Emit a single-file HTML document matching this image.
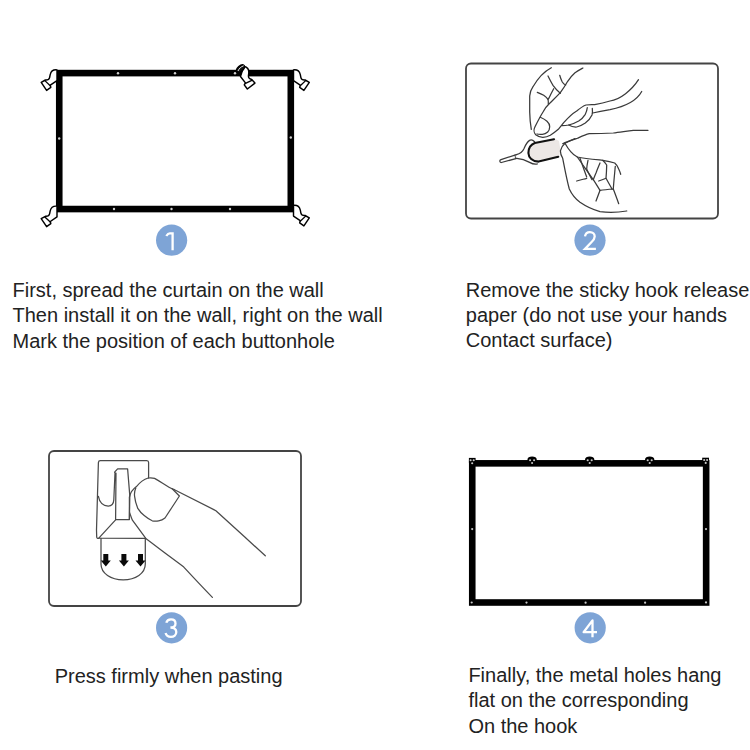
<!DOCTYPE html>
<html><head><meta charset="utf-8"><style>
html,body{margin:0;padding:0;background:#fff;width:750px;height:750px;overflow:hidden}
svg{display:block}
.t{font-family:"Liberation Sans",sans-serif;font-size:20px;fill:#222}
.n{font-family:"Liberation Sans",sans-serif;font-size:25px;fill:#fff}
.ln{fill:none;stroke:#444;stroke-width:1.3;stroke-linecap:round;stroke-linejoin:round}
</style></head><body>
<svg width="750" height="750" viewBox="0 0 750 750">
<defs><g id="hook"><path d="M57,69.9 C53.2,69.5 51,71.2 50.2,74.6 L49.6,77.6 C49.2,79.4 47.8,80.2 45.4,80 L41.2,82.4 L46.6,90.4 L50.8,87.4 L50.3,85.2 L57,80.6 Z" fill="#fff" stroke="#000" stroke-width="1.45" stroke-linejoin="round"/><path d="M44.6,80.4 L50.5,86" fill="none" stroke="#000" stroke-width="1.3"/></g></defs>
<!-- Panel 1 frame -->
<g id="p1">
<rect x="59.25" y="73.1" width="231.55" height="135.95" fill="none" stroke="#000" stroke-width="6.6"/>
<g fill="#d0d0d0"><circle cx="118" cy="73.3" r="1.2"/><circle cx="175" cy="73.3" r="1.2"/><circle cx="235" cy="73.3" r="1.2"/>
<circle cx="114" cy="209" r="1.2"/><circle cx="171.5" cy="209" r="1.2"/><circle cx="230" cy="209" r="1.2"/>
<circle cx="59.2" cy="138.5" r="1.2"/><circle cx="290.8" cy="137.5" r="1.2"/></g>
<use href="#hook"/>
<use href="#hook" transform="translate(0,136.3)"/>
<use href="#hook" transform="translate(350.5,0) scale(-1,1)"/>
<use href="#hook" transform="translate(350.5,135.5) scale(-1,1)"/>
<use href="#hook" transform="translate(244.7,66.7) rotate(18) translate(-294.5,-70) translate(350.5,0) scale(-1,1)"/>
<ellipse cx="240.6" cy="68.6" rx="4.6" ry="2.7" transform="rotate(-42 240.6 68.6)" fill="#111" stroke="#000" stroke-width="1.4"/><path d="M238,71 C239,68.6 241,66.6 243.6,65.8" fill="none" stroke="#fff" stroke-width="0.9"/>
</g>
<!-- Panel 2 box -->
<rect x="466" y="63.5" width="252" height="155" rx="5" fill="none" stroke="#444" stroke-width="1.8"/>
<g id="p2d" fill="none" stroke="#3a3a3a" stroke-width="1.25" stroke-linecap="round" stroke-linejoin="round">
<!-- paper fill -->
<path d="M533,142.5 L554.5,138.6 L559,141 L560.6,151 L558.8,157 L540,162 L531,158.5 L528.6,151 Z" fill="#ece7e5" stroke="none"/>
<!-- pin + hook head -->
<path d="M516.4,154.6 L501,159.6 C499.3,160.2 499.4,162.6 501.4,162.5 L516.8,158.4" />
<path d="M515,155.1 L515.6,158.7" stroke-width="0.9"/>
<path d="M516.4,154.6 C519.6,153.8 522.2,152.6 523.8,149 C525.2,145.6 527,142 529.6,140.4 C531.4,139.4 533.2,140.4 534.6,141.8" fill="#fff"/>
<path d="M516.8,158.4 C521,158.8 525.6,160.2 529.6,162.4 C532,163.8 534.6,164.6 537.4,164"/>
<!-- black U -->
<path d="M554,139.2 L534.8,143 C530.6,144.6 528.4,148.6 528.4,153 C528.6,157.6 532.2,161.2 538.6,161.6 L558.3,156.8" stroke="#111" stroke-width="2.1"/>
<!-- upper hand -->
<path d="M551.3,67.7 C545,71 538,78 533,86.7 C531,89.6 529.8,92 529.7,96 L529.7,112 C529.8,118 530.4,124 531.3,129.3"/>
<path d="M582.9,68 C580,69.6 577.4,71 575,72.7 C571.8,75.5 569.6,78.4 567.7,81.3 C565.2,85.6 562.8,89.4 560.3,92.7 C556.8,96.6 553,100 549.7,103.3 C546.4,106.4 544.2,109.4 543,112 C541.4,114.6 539.6,117.6 535,126.7 C533.6,129.4 533.8,133 535.7,134.7 C538.2,136.6 540.6,137.4 543,137.3 C546,137.2 548.2,136.4 550.3,135.3 C553.4,133.4 555.6,131.6 558.3,129.3 C560,127.4 561.6,125.4 563.7,122.7 C567.8,118 572,113.8 576.7,111 C579.6,108.6 582.6,106.2 586,105 C589,104.6 591.8,104.8 594.7,104.7 C600,103.6 605,102.4 610,101 C620,99.6 632,90 638.5,79.7"/>
<path d="M548,76 C549.6,79.2 551.2,82.4 553,85.3 C555.4,88.6 557.8,91.2 560.3,93.3"/>
<path d="M559.7,75.3 C560.6,77.8 561.2,80 562.3,82 C563.2,83.4 564.4,84.4 565.7,85"/>
<path d="M537.3,92.3 C539.6,93.2 541.8,94.2 543.7,95.3 C545.6,96.6 547,98 548,99.3 C548.4,100.8 548.4,102.4 548.3,104"/>
<path d="M553.7,88.7 C552,91.8 550.4,94.8 549,98 L548,99.3"/>
<path d="M540.3,117.3 C542.8,118.4 545,119.6 547,121.3 C548.8,123 549.8,124.8 549.7,126.7 C549.6,129 549,130.8 547.7,132 C546,133.6 544.2,134.2 542.3,134.3 C540.4,134.4 538.6,134.4 537,134"/>
<path d="M587.3,107.7 C587,110 586.4,112.2 585.3,114.3 C583.6,117 581.4,119.2 578.7,121 C575.6,122.8 572.2,124.2 568.7,125 C566.4,125.4 564.2,125.6 562,125.7"/>
<path d="M592.3,108.3 C592.6,110.6 592.6,112.8 592,115 C590.6,118.2 588.2,120.8 585.3,123 C582.6,124.8 579.8,126.4 576.7,127 C573.8,127.2 571,126.4 568.7,125"/>
<path d="M592.7,113 C598.4,111.8 603.8,110.8 610,109.7 C622,107.2 636,102 641.7,91.5"/>
<!-- lower hand -->
<path d="M648,130.3 C643,130.4 638,130.2 633.3,130.3 C626,131.2 619,132.4 613.3,133 C604,133.4 596,133.6 589.3,133.7 C585,134.8 581.2,136.6 577.3,138.3 C572.6,139.8 567.4,141.2 562.7,143.7"/>
<path d="M575,138.7 C571.4,140.2 567.8,141.8 565,143.3 C562.8,145.2 561,148 560.4,150.9 C560.4,153.4 561.2,155.8 562.7,158.3 C564.6,168 566.6,179 569.3,189 C572,194.8 575.6,199 580,202.3 C586,206.4 592.6,209.6 600,211.7 C609,213 618,212.6 626.7,211"/>
<path d="M565,143.3 C566.6,146.2 568.4,149.2 570.7,151.7 C572.6,154 574.8,155.8 577.3,157 C585,158.6 594,159.4 602.7,160.3 C607,161 611,161.8 614.7,163 C616.6,164.6 618,166.8 618.7,169 C619.6,170.8 620.2,172.6 620.7,174.3"/>
<path d="M577.3,157 C582.4,164.4 588,172 593.3,179.7 C595.6,183.2 597.8,186.8 600,190.3 C598.8,193.8 597.4,197.4 596,201"/>
<path d="M600,190.3 C604.4,189.8 608.8,189.4 613.3,189 C615.2,194 617,198.8 618.7,203.7"/>
<path d="M613.3,189 C613.8,181.4 614.6,173.8 615.3,166.3"/>
<path d="M588,160.3 C587.4,163.2 586.8,166 586.7,169 C588.2,172.6 590,176 592,179.7"/>
<path d="M600,163 C598.6,166.4 597.2,169.6 596,173 C595,175.2 594.2,177.4 593.3,179.7"/>
<path d="M602.7,160.3 C604.2,161.8 605.6,163.4 606.7,165 C606.6,169.4 606.4,173.8 606,178.3 C603.6,179.4 601.2,180.2 598.7,181"/>
<path d="M606,178.3 C608,181.8 610,185.4 612,189"/>
<path d="M576.7,181 C580,180 583.4,179.2 586.7,178.3"/>
<path d="M580,158.3 C582.2,164.6 584.4,170.8 586.7,177"/>
</g>
<!-- Panel 3 box -->
<rect x="49" y="451" width="252" height="155" rx="5" fill="none" stroke="#444" stroke-width="1.8"/>
<g id="p3d" fill="none" stroke="#4a4a4a" stroke-width="1.25" stroke-linecap="round" stroke-linejoin="round">
<!-- pad -->
<path d="M148.6,478 L148.6,462.6 C148.6,461.4 147.9,460.7 146.8,460.7 L100.4,460.7 C99.2,460.7 98.5,461.4 98.4,462.6 L96.5,530 L96.7,537 C96.8,538 97.6,538.6 98.8,538.4"/>
<!-- slot -->
<path d="M98.4,496.4 C99.4,502.4 103.4,506 108.2,506 C111.8,506 113.6,503.4 113.8,500 L115,473 L114.6,472.2 L117.6,468.8 L127.6,468.8 L129.8,495.6 L129.4,519.6 L115.6,519.6 L116,473"/>
<!-- trapezoid & U -->
<path d="M115.6,519.8 L98.8,538.2 L145.8,538.4"/>
<path d="M101,538.4 L101,564 C101,573.4 111,579.8 123.2,579.8 C135.6,579.8 145.3,573.4 145.3,564 L145.3,538.6"/>
<!-- thumb -->
<path d="M129.6,512.6 C130.6,515.4 131.4,518 132.4,520.2 L145.8,538.4 C152,543 158,547.6 165,553 C171.4,557.8 177.6,562.4 183.8,567.1 C193,577 202.4,587 212.4,597.4"/>
<path d="M129.4,519 L129.4,497.2 C130.4,492.4 132.8,489.2 136.2,486.8 C139.8,482.4 143.6,479.4 148.2,478 C150.4,477.8 152.6,477.8 154.6,478.4 C159.6,481.2 164.2,484.4 169,487.2 C171.4,488.6 173.2,489.2 175,490 C188,496.6 202,503.6 215.9,510.7 C232,525.4 249,540.8 265.3,555.8"/>
<path d="M135.8,488 C134.6,490.8 134.2,493.6 134.6,496.4 C135,500.4 136.2,504.6 137.8,508.4 C139.6,511.4 141.8,513.6 144.2,515.6 C146.8,517.8 149.4,519.6 152.2,520.8 C154.4,521.2 156.4,521.2 158.6,520.8 C161,520.4 163.2,519.4 165,518 C169.8,510.6 174.6,503.4 179.4,496 C177,493.6 174.6,491.2 172.2,488.8"/>
</g>
<g fill="#0a0a0a">
<path d="M103.3,554 L108.3,554 L108.3,560.4 L110.8,560.4 L105.8,566.6 L100.8,560.4 L103.3,560.4 Z"/>
<path d="M121.4,554 L126.4,554 L126.4,560.4 L128.9,560.4 L123.9,566.6 L118.9,560.4 L121.4,560.4 Z"/>
<path d="M138,554 L143,554 L143,560.4 L145.5,560.4 L140.5,566.6 L135.5,560.4 L138,560.4 Z"/>
</g>
<!-- Panel 4 frame -->
<g id="p4">
<rect x="472.25" y="463.35" width="233.9" height="139.15" fill="none" stroke="#000" stroke-width="6.6"/>
<defs><g id="bump"><path d="M-4.7,461 L-4.7,460 C-4.7,457.6 -2.6,456.6 0,456.6 C2.6,456.6 4.7,457.6 4.7,460 L4.7,461 Z" fill="#000"/>
<g fill="#c8c8c8"><circle cx="-2" cy="460.2" r="1.05"/><circle cx="2" cy="460.2" r="1.05"/><circle cx="0" cy="463" r="1.05"/></g></g></defs>
<use href="#bump" x="532.1"/><use href="#bump" x="589.7"/><use href="#bump" x="649.7"/>
<rect x="468.9" y="457.9" width="6.7" height="5" fill="#000"/>
<rect x="702.2" y="457.7" width="6.8" height="5" fill="#000"/>
<g fill="#c8c8c8">
<circle cx="470.6" cy="460.3" r="1.05"/><circle cx="473.7" cy="460.3" r="1.05"/><circle cx="472.2" cy="463.2" r="1.05"/>
<circle cx="704.2" cy="460" r="1.05"/><circle cx="707.1" cy="460" r="1.05"/><circle cx="705.7" cy="462.9" r="1.05"/>
<circle cx="471.7" cy="602.5" r="1.1"/><circle cx="706" cy="602.4" r="1.1"/>
<circle cx="526.5" cy="602.6" r="1.1"/><circle cx="585.6" cy="602.7" r="1.1"/><circle cx="645.1" cy="602.7" r="1.1"/>
<circle cx="472.2" cy="529.1" r="1.1"/><circle cx="706" cy="529.1" r="1.1"/>
</g>
</g>

<!-- circles -->
<circle cx="171.6" cy="240.2" r="15.6" fill="#7ea4d6"/>
<circle cx="590" cy="240.2" r="15.6" fill="#7ea4d6"/>
<circle cx="171.6" cy="627.8" r="15.6" fill="#7ea4d6"/>
<circle cx="590.2" cy="627.8" r="15.6" fill="#7ea4d6"/>

<g fill="none" stroke="#fff" stroke-width="2.3" stroke-linecap="butt" stroke-linejoin="miter">
<path d="M166.3,236 C167.2,234.6 168.2,233.4 169.8,233.4 L172.6,233.4 L172.6,250.2"/>
<path d="M585,236.4 C585.5,233.6 587.4,232.2 589.9,232.2 C592.7,232.2 594.7,234 594.7,236.6 C594.7,238.7 593.5,240.2 591.6,242 L585,248.9 L595.9,248.9"/>
<path d="M166.3,622.8 C166.9,620.5 168.7,619.4 171,619.4 C173.7,619.4 175.5,621.1 175.5,623.5 C175.5,625.9 173.6,627.5 170.4,627.5 C173.9,627.5 176.3,629.3 176.3,632.1 C176.3,635.1 173.9,636.9 170.9,636.9 C168.2,636.9 166.2,635.5 165.6,633"/>
<path d="M592.5,637.2 L592.5,620.4 L583.6,632.2 L597,632.2" stroke-linejoin="round"/>
</g>
<!-- texts -->
<text class="t" x="12.5" y="297">First, spread the curtain on the wall</text>
<text class="t" x="12.5" y="322.2">Then install it on the wall, right on the wall</text>
<text class="t" x="12.5" y="347.5">Mark the position of each buttonhole</text>
<text class="t" x="465.8" y="296.6">Remove the sticky hook release</text>
<text class="t" x="465.8" y="322">paper (do not use your hands</text>
<text class="t" x="465.8" y="347">Contact surface)</text>
<text class="t" x="54.7" y="683">Press firmly when pasting</text>
<text class="t" x="468.4" y="682">Finally, the metal holes hang</text>
<text class="t" x="468.4" y="707.3">flat on the corresponding</text>
<text class="t" x="468.4" y="732.7">On the hook</text>
</svg>
</body></html>
